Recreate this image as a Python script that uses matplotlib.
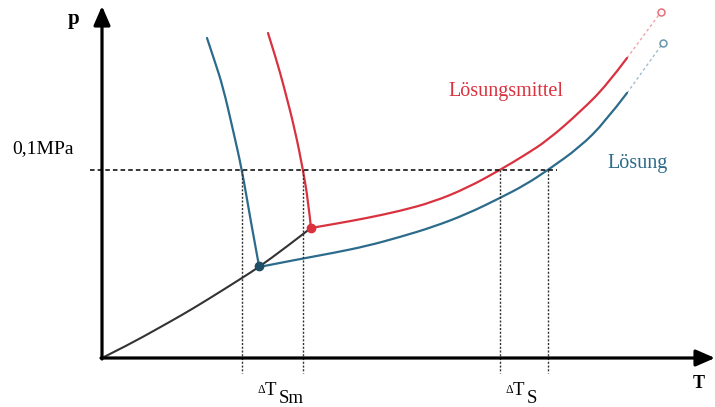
import matplotlib.pyplot as plt
from matplotlib.path import Path
from matplotlib.patches import PathPatch

plt.rcParams['font.family'] = ['Liberation Serif', 'DejaVu Serif']

# values (T to the right, p upwards, origin at the axes corner)
sub_T = [0, 28, 55, 80, 105, 140, 157, 183, 209]
sub_p = [0, 14, 29, 43, 58, 80, 91, 110, 130]

melt_sol_T = [105, 113, 121, 131, 140, 148, 157]
melt_sol_p = [320, 296, 271, 228, 188, 141, 92]

melt_lm_T = [166, 174.5, 182, 193, 201, 206, 209]
melt_lm_p = [325, 298, 271, 228, 188, 158, 130]

vap_lm_T = [209, 238, 265, 298, 331, 365, 398, 423, 446, 478, 505, 525]
vap_lm_p = [130, 135, 140, 147, 156, 170, 188, 203, 218, 246, 273, 300]
vap_lm_ext_T = [525, 559]
vap_lm_ext_p = [300, 346]

vap_sol_T = [157, 198, 231, 265, 298, 331, 365, 398, 423, 446, 478, 503, 525]
vap_sol_p = [91, 99, 105, 112, 121, 131, 144, 160, 173, 188, 211, 236, 265]
vap_sol_ext_T = [525, 561]
vap_sol_ext_p = [265, 315]

p_ref = 188                       # 0,1 MPa
dT_marks = [140, 201, 398, 446]   # intersections with p_ref

red = '#d9323f'
blue = '#2c6b8b'


def smooth_line(ax, xs, ys, **kw):
    # quadratic bezier through the midpoints, so the sketched curve has no corners
    pts = list(zip(xs, ys))
    verts = [pts[0]]
    codes = [Path.MOVETO]
    for i in range(1, len(pts) - 1):
        mid = ((pts[i][0] + pts[i + 1][0]) / 2, (pts[i][1] + pts[i + 1][1]) / 2)
        if i == len(pts) - 2:
            mid = pts[-1]
        verts += [pts[i], mid]
        codes += [Path.CURVE3, Path.CURVE3]
    if len(pts) == 2:
        verts.append(pts[1])
        codes.append(Path.LINETO)
    ax.add_patch(PathPatch(Path(verts, codes), fill=False, capstyle='round', **kw))


fig = plt.figure(figsize=(7.15, 4.07), dpi=100)
ax = fig.add_axes([0, 0, 1, 1])
ax.set_xlim(-102, 613)
ax.set_ylim(-49, 358)
ax.axis('off')

# axes with arrows
arrow = dict(arrowstyle='-|>,head_length=1.15,head_width=0.5', color='black',
             lw=2.3, mutation_scale=10, shrinkA=0, shrinkB=0)
ax.annotate('', xy=(0, 352), xytext=(0, -1), arrowprops=arrow)
ax.annotate('', xy=(613, 0), xytext=(-1, 0), arrowprops=arrow)

# reference pressure and temperature marks
ax.plot([-12, 455], [p_ref, p_ref], color='black', lw=1.1, ls=(0, (3, 2)))
for t in dT_marks:
    ax.plot([t, t], [p_ref, -15], color='#333333', lw=1.0, ls=(0, (1.5, 1.2)))

# curves
smooth_line(ax, sub_T, sub_p, color='#333333', lw=1.5)
smooth_line(ax, melt_sol_T, melt_sol_p, color=blue, lw=1.6)
smooth_line(ax, melt_lm_T, melt_lm_p, color=red, lw=1.6)
smooth_line(ax, vap_lm_T, vap_lm_p, color=red, lw=1.6)
smooth_line(ax, vap_sol_T, vap_sol_p, color=blue, lw=1.6)
ax.plot(vap_lm_ext_T, vap_lm_ext_p, color=red, lw=1.0, ls=(0, (2, 2)), alpha=0.45)
ax.plot(vap_sol_ext_T, vap_sol_ext_p, color=blue, lw=1.0, ls=(0, (2, 2)), alpha=0.45)
ax.plot(vap_lm_ext_T[-1:], vap_lm_ext_p[-1:], 'o', ms=5, mfc='white', mec=red, mew=1.1, alpha=0.7)
ax.plot(vap_sol_ext_T[-1:], vap_sol_ext_p[-1:], 'o', ms=5, mfc='white', mec=blue, mew=1.1, alpha=0.7)

# triple points
ax.plot(melt_sol_T[-1:], melt_sol_p[-1:], 'o', ms=6, color='#1f4f66', zorder=3)
ax.plot(melt_lm_T[-1:], melt_lm_p[-1:], 'o', ms=6, color=red, zorder=3)

# labels
ax.text(-34, 334, 'p', fontsize=15, fontweight='bold', va='baseline')
ax.text(591, -30, 'T', fontsize=13, fontweight='bold', va='baseline')
ax.text(-90, 205, '0,1MPa', fontsize=14, va='baseline')
ax.text(346, 262, 'Lösungsmittel', fontsize=14.5, color=red, va='baseline')
ax.text(505, 190, 'Lösung', fontsize=14.5, color=blue, va='baseline')

for x0, sub in [(155, 'Sm'), (403, 'S')]:
    ax.text(x0, -35, 'Δ', fontsize=8.5, va='baseline')
    ax.text(x0 + 8, -37, 'T', fontsize=13.5, va='baseline')
    ax.text(x0 + 22, -45, sub, fontsize=13.5, va='baseline')

fig.savefig('out.png', dpi=100)
